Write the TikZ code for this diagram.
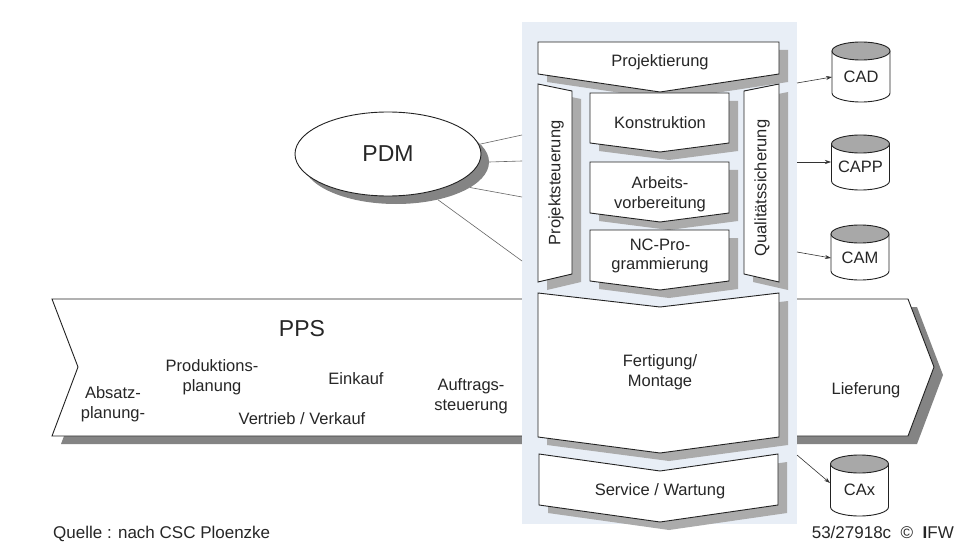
\documentclass[tikz,border=0pt]{standalone}
\usepackage{fontspec}
\setmainfont{Liberation Sans}
\usetikzlibrary{arrows.meta,shapes.geometric}
\definecolor{panel}{HTML}{E8EEF6}
\definecolor{shd}{HTML}{ABABAB}
\definecolor{shdark}{HTML}{848484}
\definecolor{ln}{HTML}{222222}
\definecolor{cyltop}{HTML}{A8A8A8}
\newcommand\shbox[2]{\fill[#1,shift={(9,8)}] #2; \filldraw[outl] #2;}
\newcommand\cyl[6]{% name, xc, ytop centre, ybottom centre, label y, label
  \filldraw[outl] (#2-29,#3) -- (#2-29,#4) arc (180:0:29 and 9) -- (#2+29,#3) -- cycle;
  \filldraw[outl, fill=cyltop] (#2,#3) ellipse (29 and 9);
  \node[lbl] (#1) at (#2,#5) {#6};}
\begin{document}
\begin{tikzpicture}[x=1pt,y=-1pt,
  outl/.style={draw=ln, line width=0.9pt, fill=white, line join=miter},
  lbl/.style={inner sep=0pt, font=\fontsize{16.5}{19.5}\selectfont, text=black!85, align=center},
  big/.style={inner sep=0pt, font=\fontsize{23}{27}\selectfont, text=black!85},
  conn/.style={draw=black!60, line width=0.6pt},
  arr/.style={draw=black!80, line width=0.6pt, -{Stealth[length=6pt,width=4pt]}},
]
\useasboundingbox (0,0) rectangle (960,548);
\fill[white] (0,0) rectangle (960,548);

% PPS arrow
\shbox{shdark}{(52,299) -- (908,299) -- (934,367) -- (908,436) -- (52,436) -- (78,367) -- cycle}

% panel
\fill[panel] (522,22) rectangle (797,524);

% chevrons
\shbox{shd}{(538,42) -- (779,42) -- (779,74) -- (660,92) -- (538,74) -- cycle}
\shbox{shd}{(538,84) -- (572,91) -- (572,274) -- (538,282) -- cycle}
\shbox{shd}{(744,91) -- (779,84) -- (779,282) -- (744,274) -- cycle}
\shbox{shd}{(590,93) -- (729,93) -- (729,143) -- (660,152) -- (590,143) -- cycle}
\shbox{shd}{(590,162) -- (729,162) -- (729,213) -- (660,222) -- (590,213) -- cycle}
\shbox{shd}{(590,230) -- (729,230) -- (729,281) -- (660,290) -- (590,281) -- cycle}
\shbox{shd}{(538,293) -- (660,307) -- (779,293) -- (779,437) -- (660,453) -- (538,437) -- cycle}
\shbox{shd}{(539,454) -- (660,471) -- (778,454) -- (778,505) -- (660,522) -- (539,505) -- cycle}

% texts in the panel
\node[lbl] (proj) at (660,62) {Projektierung};
\node[lbl] (konst) at (660,123) {Konstruktion};
\node[lbl] (arbeit) at (660,194) {Arbeits-\\vorbereitung};
\node[lbl] (nc) at (660,256) {NC-Pro-\\grammierung};
\node[lbl, rotate=90] (psteu) at (556,183) {Projektsteuerung};
\node[lbl, rotate=90] (qs) at (762,188) {Qualitätssicherung};
\node[lbl] (fert) at (660,372) {Fertigung/\\Montage};
\node[lbl] (serv) at (660,491) {Service / Wartung};

% PPS texts
\node[big] (pps) at (302,329) {PPS};
\node[lbl] (absatz) at (113,404) {Absatz-\\planung-};
\node[lbl] (prod) at (212,377) {Produktions-\\planung};
\node[lbl] (eink) at (356,379) {Einkauf};
\node[lbl] (vertr) at (302,419) {Vertrieb / Verkauf};
\node[lbl] (auftr) at (471,396) {Auftrags-\\steuerung};
\node[lbl] (liefer) at (866,390) {Lieferung};

% PDM
\fill[shdark] (396,162) ellipse (93 and 42);
\filldraw[outl] (388,154) ellipse (93 and 42);
\node[ellipse, minimum width=186pt, minimum height=84pt, inner sep=0pt, draw=none] (pdms) at (396,162) {};
\node[big] (pdm) at (388,154) {PDM};
\coordinate (p1) at (522,135);
\coordinate (p2) at (522,161);
\coordinate (p3) at (522,197);
\coordinate (p4) at (522,261);
\draw[conn] (pdms.12) -- (p1);
\draw[conn] (pdms.0) -- (p2);
\draw[conn] (pdms.-19) -- (p3);
\draw[conn] (pdms.-42) -- (p4);

% cylinders
\cyl{cad}{861}{51}{93}{77}{CAD}
\cyl{capp}{860.5}{144}{181}{167}{CAPP}
\cyl{cam}{860}{234}{271}{258}{CAM}
\cyl{cax}{859.5}{464}{507}{490}{CAx}
\coordinate (a1) at (797,83);   \coordinate (cadin) at (832,77);
\coordinate (a2) at (797,162);  \coordinate (cappin) at (831,162);
\coordinate (a3) at (797,252);  \coordinate (camin) at (831,258);
\coordinate (a4) at (797,455);  \coordinate (caxin) at (830,483);
\draw[arr] (a1) -- (cadin);
\draw[arr] (a2) -- (cappin);
\draw[arr] (a3) -- (camin);
\draw[arr] (a4) -- (caxin);

% footer
\node[lbl, anchor=base west, font=\fontsize{17}{20}\selectfont] (src) at (53,538) {Quelle : nach CSC Ploenzke};
\node[lbl, anchor=base east, font=\fontsize{17}{20}\selectfont] (ref) at (954,538) {53/27918c \ © \ \textbf{I}FW};
\end{tikzpicture}
\end{document}
